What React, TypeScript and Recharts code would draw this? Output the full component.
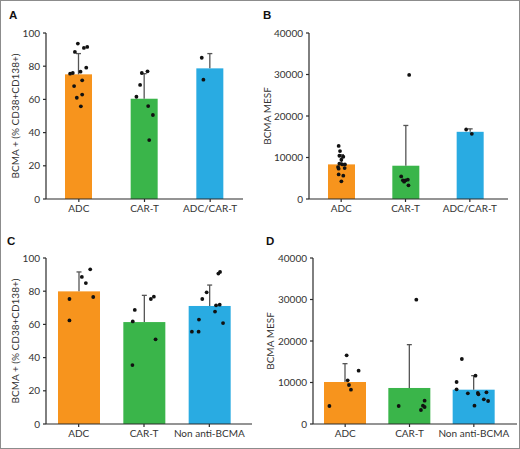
import React from 'react';
import { ComposedChart, Bar, Scatter, XAxis, YAxis } from 'recharts';

const CATS_AB = ['ADC', 'CAR-T', 'ADC/CAR-T'];
const CATS_CD = ['ADC', 'CAR-T', 'Non anti-BCMA'];
const COLORS = ['#F7941D', '#3AB54A', '#29ABE2'];

const PCT_TICKS = [0, 20, 40, 60, 80, 100];
const MESF_TICKS = [0, 10000, 20000, 30000, 40000];

const MEAN_A = [75.1, 60.4, 78.7];
const SD_A = [12.5, 15.1, 8.9];
const MEAN_B = [8340, 8020, 16190];
const SD_B = [2340, 9700, 710];
const MEAN_C = [79.9, 61.4, 71.1];
const SD_C = [11.7, 16.1, 12.6];
const MEAN_D = [10120, 8680, 8270];
const SD_D = [4420, 10440, 3380];

const DOTS_A = [
  [93.6, 88.6, 91, 91.6, 75.5, 75.9, 76.7, 79.1, 68, 71.5, 61, 62.9, 55.8],
  [75.9, 76.9, 68.7, 61.6, 56, 50.6, 35.5],
  [85.1, 71.9],
];
const JITTER_A = [
  [-0.015, -0.06, 0.077, 0.128, -0.133, -0.092, 0.026, 0.113, -0.072, 0.051, -0.031, 0.051, 0.031],
  [-0.041, 0.046, -0.067, -0.123, 0.056, 0.128, 0.072],
  [-0.128, -0.103],
];

const DOTS_B = [
  [12800, 11540, 10420, 10180, 9460, 8340, 8500, 8340, 7700, 7300, 7460, 5930, 5610, 4250],
  [5450, 4490, 4490, 4650, 4170, 3290, 29900],
  [16750, 15710],
];
const JITTER_B = [
  [-0.039, -0.018, -0.028, 0.033, 0.003, 0.018, -0.028, 0.059, -0.049, -0.039, 0.054, -0.039, 0.033, 0.003],
  [-0.067, -0.041, 0, 0.036, -0.021, 0.046, 0.057],
  [-0.057, 0.031],
];

const DOTS_C = [
  [93.2, 88.6, 84.9, 75.3, 76.5, 62.4],
  [76.7, 75.3, 68.7, 61.8, 51, 35.5],
  [91.6, 90.6, 79.3, 75.3, 71.5, 71.9, 67.7, 62.9, 60.8, 55.6, 55.6],
];
const JITTER_C = [
  [0.177, 0.049, 0.11, -0.141, 0.223, -0.141],
  [0.151, 0.105, -0.141, -0.172, 0.177, -0.177],
  [0.164, 0.138, -0.041, -0.108, 0.103, 0.159, 0.087, -0.159, 0.21, -0.267, -0.164],
];

const DOTS_D = [
  [16550, 12850, 10520, 9400, 8270, 4340],
  [29960, 4340, 5620, 4420, 4100, 3370],
  [15660, 10120, 11650, 8350, 7390, 7470, 7630, 7150, 5940, 5540, 4420],
];
const JITTER_D = [
  [0.023, 0.209, 0.039, 0.059, 0.09, -0.245],
  [0.106, -0.168, 0.235, 0.209, 0.235, 0.178],
  [-0.186, -0.268, 0.026, -0.268, -0.093, 0.062, 0.196, 0.072, 0.155, 0.222, 0.01],
];

const FONT = 'Lato, "DejaVu Sans", sans-serif';
const TEXT = '#333333';
const AXIS = '#2b2b2b';

const BarWithError = (props: any) => {
  const { x, y, width, height, fill, payload, value } = props;
  const v = Array.isArray(value) ? value[1] - value[0] : value;
  const perUnit = v ? height / v : 0;
  const top = y - payload.sd * perUnit;
  const cx = x + width / 2;
  return (
    <g>
      <rect x={x} y={y} width={width} height={height} fill={fill} />
      <line x1={cx} y1={y} x2={cx} y2={top} stroke="#555" strokeWidth={1.3} />
      <line x1={cx - 2.5} y1={top} x2={cx + 2.5} y2={top} stroke="#555" strokeWidth={1.3} />
    </g>
  );
};

const Dot = (props: any) => {
  const { cx, cy } = props;
  return <circle cx={cx} cy={cy} r={1.9} fill="#111" />;
};

type PanelProps = {
  left: number;
  top: number;
  width: number;
  height: number;
  cats: string[];
  means: number[];
  sds: number[];
  dots: number[][];
  jitter: number[][];
  yMax: number;
  ticks: number[];
  yLabel: string;
  yLabelX: number;
  yAxisWidth: number;
  margin: { top: number; right: number; bottom: number; left: number };
  padRight: number;
  barSize: number;
  letter: string;
  letterX: number;
  letterY: number;
};

const Panel = (p: PanelProps) => {
  const data = p.cats.map((name, i) => ({ name, mean: p.means[i], sd: p.sds[i], fill: COLORS[i] }));
  const pts: { x: number; y: number }[] = [];
  p.dots.forEach((arr, g) => arr.forEach((v, k) => pts.push({ x: g + p.jitter[g][k], y: v })));
  const yLabelRender = (lp: any) => {
    const vb = lp.viewBox || {};
    const cy = (vb.y ?? 0) + (vb.height ?? 0) / 2;
    return (
      <text
        x={p.yLabelX}
        y={cy}
        transform={`rotate(-90, ${p.yLabelX}, ${cy})`}
        textAnchor="middle"
        dominantBaseline="central"
        fontSize={10}
        fontFamily={FONT}
        fill={TEXT}
      >
        {p.yLabel}
      </text>
    );
  };
  return (
    <div style={{ position: 'absolute', left: p.left, top: p.top, width: p.width, height: p.height }}>
      <div
        style={{
          position: 'absolute',
          left: p.letterX,
          top: p.letterY,
          fontFamily: '"Liberation Sans", Arial, sans-serif',
          fontWeight: 700,
          fontSize: 11.5,
          lineHeight: '11px',
          color: '#111',
        }}
      >
        {p.letter}
      </div>
      <ComposedChart width={p.width} height={p.height} data={data} margin={p.margin}>
        <XAxis
          dataKey="name"
          xAxisId="cat"
          type="category"
          padding={{ left: 0, right: p.padRight }}
          tickSize={3}
          tickMargin={3}
          stroke={AXIS}
          strokeWidth={1.2}
          height={21}
          interval={0}
          tick={{ fontSize: 10, fontFamily: FONT, fill: TEXT }}
        />
        <XAxis
          xAxisId="num"
          dataKey="x"
          type="number"
          domain={[-0.5, 2.5]}
          allowDataOverflow
          padding={{ left: 0, right: p.padRight }}
          hide
          height={21}
        />
        <YAxis
          domain={[0, p.yMax]}
          ticks={p.ticks}
          interval={0}
          width={p.yAxisWidth}
          tickSize={3}
          tickMargin={3}
          stroke={AXIS}
          strokeWidth={1.2}
          allowDataOverflow
          tick={{ fontSize: 10, fontFamily: FONT, fill: TEXT }}
          label={yLabelRender}
        />
        <Bar
          dataKey="mean"
          xAxisId="cat"
          barSize={p.barSize}
          isAnimationActive={false}
          shape={BarWithError}
        />
        <Scatter
          data={pts}
          dataKey="y"
          xAxisId="num"
          isAnimationActive={false}
          shape={Dot}
        />
      </ComposedChart>
    </div>
  );
};

export default function App() {
  return (
    <div
      style={{
        position: 'absolute',
        left: 0,
        top: 0,
        width: 520,
        height: 449,
        boxSizing: 'border-box',
        border: '1px solid #8c8c8c',
        background: '#fff',
        overflow: 'hidden',
      }}
    >
      <div style={{ position: 'absolute', left: -1, top: -1, width: 520, height: 449 }}>
        <Panel
          left={0}
          top={0}
          width={260}
          height={220}
          cats={CATS_AB}
          means={MEAN_A}
          sds={SD_A}
          dots={DOTS_A}
          jitter={JITTER_A}
          yMax={100}
          ticks={PCT_TICKS}
          yLabel="BCMA + (% CD38+CD138+)"
          yLabelX={15}
          yAxisWidth={46}
          margin={{ top: 33, right: 17, bottom: 0, left: 0 }}
          padRight={0}
          barSize={27}
          letter="A"
          letterX={9}
          letterY={10}
        />
        <Panel
          left={260}
          top={0}
          width={260}
          height={220}
          cats={CATS_AB}
          means={MEAN_B}
          sds={SD_B}
          dots={DOTS_B}
          jitter={JITTER_B}
          yMax={40000}
          ticks={MESF_TICKS}
          yLabel="BCMA MESF"
          yLabelX={7}
          yAxisWidth={49}
          margin={{ top: 33, right: 12, bottom: 0, left: 0 }}
          padRight={6}
          barSize={27}
          letter="B"
          letterX={3}
          letterY={10}
        />
        <Panel
          left={0}
          top={220}
          width={260}
          height={229}
          cats={CATS_CD}
          means={MEAN_C}
          sds={SD_C}
          dots={DOTS_C}
          jitter={JITTER_C}
          yMax={100}
          ticks={PCT_TICKS}
          yLabel="BCMA + (% CD38+CD138+)"
          yLabelX={15}
          yAxisWidth={46}
          margin={{ top: 38, right: 8, bottom: 4, left: 0 }}
          padRight={10}
          barSize={42}
          letter="C"
          letterX={7}
          letterY={16}
        />
        <Panel
          left={260}
          top={220}
          width={260}
          height={229}
          cats={CATS_CD}
          means={MEAN_D}
          sds={SD_D}
          dots={DOTS_D}
          jitter={JITTER_D}
          yMax={40000}
          ticks={MESF_TICKS}
          yLabel="BCMA MESF"
          yLabelX={10}
          yAxisWidth={53}
          margin={{ top: 38, right: 3, bottom: 4, left: 0 }}
          padRight={11}
          barSize={42}
          letter="D"
          letterX={6}
          letterY={16}
        />
      </div>
    </div>
  );
}
